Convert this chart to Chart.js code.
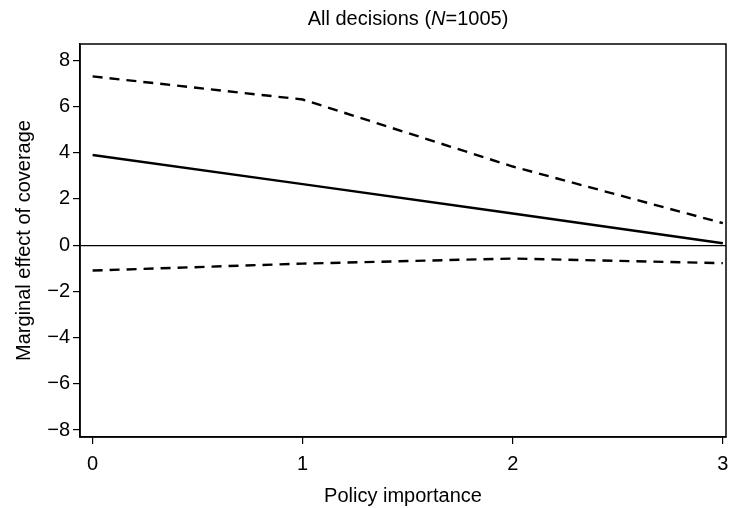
<!DOCTYPE html>
<html>
<head>
<meta charset="utf-8">
<script src="https://cdn.jsdelivr.net/npm/chart.js@4"></script>
<style>
  html, body { margin: 0; padding: 0; background: #fff; }
  #wrap { width: 729px; height: 508px; position: relative; }
</style>
</head>
<body>
<div id="wrap"><canvas id="effectChart" width="729" height="508"></canvas></div>
<script>
const policyImportance = [0, 1, 2, 3];
const marginalEffect = [3.9, 2.64, 1.37, 0.08];
const upperBound = [7.3, 6.3, 3.4, 0.95];
const lowerBound = [-1.1, -0.8, -0.58, -0.78];
const yTicks = [-8, -6, -4, -2, 0, 2, 4, 6, 8];
const xTicks = [0, 1, 2, 3];

const font = 'Liberation Sans';

// frame round the plot area, and the title with the italic N
const framePlugin = {
    id: 'frame',
    afterDraw(chart) {
        const ctx = chart.ctx;
        const a = chart.chartArea;
        ctx.save();
        ctx.strokeStyle = '#000';
        ctx.lineWidth = 1.5;
        ctx.strokeRect(a.left, a.top, a.right - a.left, a.bottom - a.top);

        const parts = [
            { t: 'All decisions (', f: '20px "' + font + '"' },
            { t: 'N', f: 'italic 20px "' + font + '"' },
            { t: '=1005)', f: '20px "' + font + '"' }
        ];
        let total = 0;
        parts.forEach(p => { ctx.font = p.f; p.w = ctx.measureText(p.t).width; total += p.w; });
        let x = 408 - total / 2;
        ctx.fillStyle = '#000';
        ctx.textBaseline = 'middle';
        parts.forEach(p => {
            ctx.font = p.f;
            ctx.fillText(p.t, x, 19);
            x += p.w;
        });
        ctx.restore();
    }
};

const lineDefaults = {
    borderColor: '#000',
    borderWidth: 2.4,
    pointRadius: 0,
    tension: 0,
    fill: false
};

const ctx = document.getElementById('effectChart').getContext('2d');
const chart = new Chart(ctx, {
    type: 'line',
    data: {
        datasets: [
            {
                label: 'Upper bound',
                ...lineDefaults,
                borderDash: [10, 7],
                data: policyImportance.map((x, i) => ({ x, y: upperBound[i] }))
            },
            {
                label: 'Marginal effect',
                ...lineDefaults,
                data: policyImportance.map((x, i) => ({ x, y: marginalEffect[i] }))
            },
            {
                label: 'Lower bound',
                ...lineDefaults,
                borderDash: [10, 7],
                data: policyImportance.map((x, i) => ({ x, y: lowerBound[i] }))
            }
        ]
    },
    options: {
        responsive: false,
        animation: false,
        layout: { padding: { left: 0, right: 3, top: 44, bottom: 0 } },
        plugins: {
            legend: { display: false },
            tooltip: { enabled: false }
        },
        scales: {
            x: {
                type: 'linear',
                min: -0.06,
                max: 3.015,
                afterBuildTicks: s => { s.ticks = xTicks.map(v => ({ value: v })); },
                afterFit: s => { s.height = 71; s.paddingLeft = 0; s.paddingRight = 0; },
                grid: { drawOnChartArea: false, tickLength: 7, color: '#000', lineWidth: 1.2 },
                border: { color: '#000', width: 1.5 },
                ticks: { color: '#000', font: { family: font, size: 20 }, padding: 8 },
                title: {
                    display: true,
                    text: 'Policy importance',
                    color: '#000',
                    font: { family: font, size: 20 },
                    padding: { top: 2, bottom: 0 }
                }
            },
            y: {
                type: 'linear',
                min: -8.3,
                max: 8.7,
                afterBuildTicks: s => { s.ticks = yTicks.map(v => ({ value: v })); },
                afterFit: s => { s.width = 80; },
                grid: {
                    drawOnChartArea: true,
                    tickLength: 7,
                    tickColor: '#000',
                    color: c => (c.tick && c.tick.value === 0 ? '#000' : 'rgba(0,0,0,0)'),
                    lineWidth: 1.2
                },
                border: { color: '#000', width: 1.5 },
                ticks: {
                    color: '#000',
                    font: { family: font, size: 20 },
                    padding: 3,
                    callback: v => String(v).replace('-', '\u2212')
                },
                title: {
                    display: true,
                    text: 'Marginal effect of coverage',
                    color: '#000',
                    font: { family: font, size: 20 },
                    padding: { top: 12, bottom: 4 }
                }
            }
        }
    },
    plugins: [framePlugin]
});
</script>
</body>
</html>
